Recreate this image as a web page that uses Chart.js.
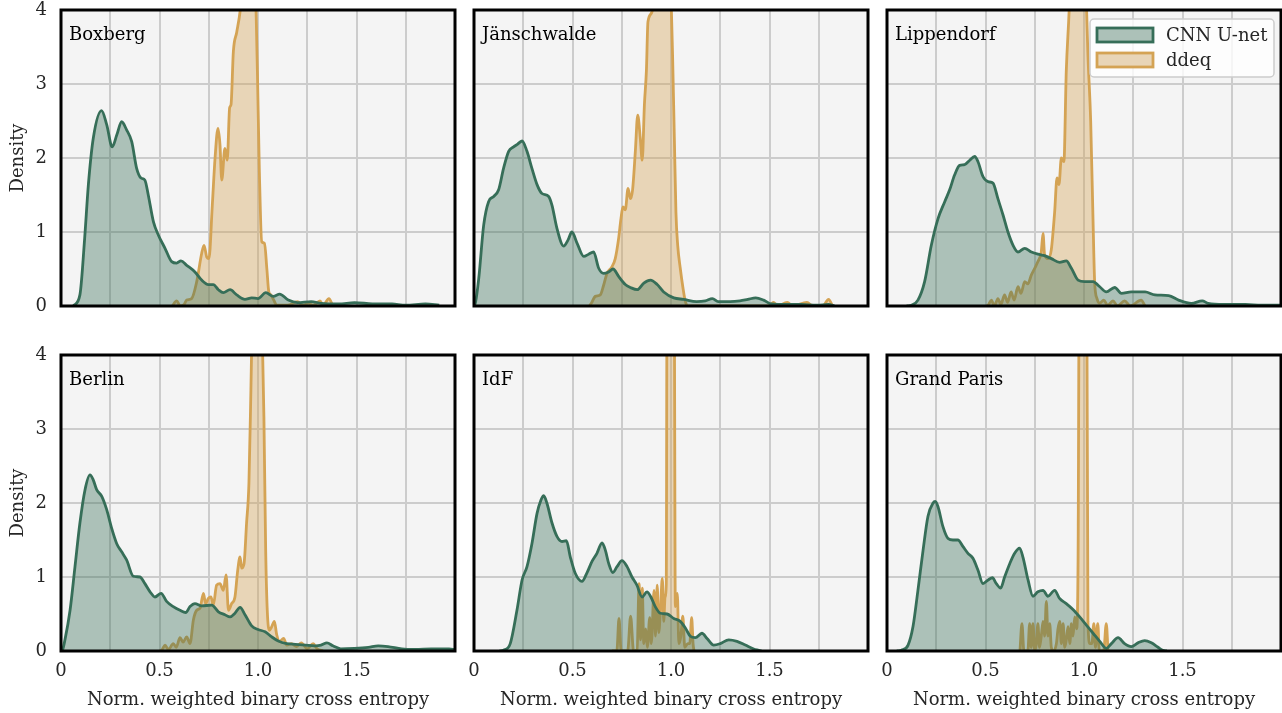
<!DOCTYPE html>
<html>
<head>
<meta charset="utf-8">
<script src="https://cdn.jsdelivr.net/npm/chart.js@4.4.1/dist/chart.umd.min.js"></script>
<style>
html, body { margin: 0; padding: 0; background: #fff; overflow: hidden; width: 1282px; height: 713px; }
canvas { position: absolute; }
</style>
</head>
<body>
<script>
// ---------------------------------------------------------------------------
// Data: KDE curves, as [x, density] pairs
// ---------------------------------------------------------------------------

const siteNames = ['Boxberg', 'Jänschwalde', 'Lippendorf', 'Berlin', 'IdF', 'Grand Paris'];
const seriesLabels = ['CNN U-net', 'ddeq'];
const xTicks = [0, 0.5, 1.0, 1.5];
const yTicks = [0, 1, 2, 3, 4];

const boxbergCnn = [[0.063,0],[0.096,0.15],[0.12,0.91],[0.139,1.64],[0.164,2.27],[0.206,2.64],[0.232,2.45],[0.26,2.15],[0.283,2.31],[0.308,2.49],[0.333,2.38],[0.359,2.22],[0.384,1.86],[0.406,1.73],[0.426,1.70],[0.443,1.5],[0.469,1.14],[0.494,0.96],[0.528,0.78],[0.562,0.6],[0.587,0.58],[0.609,0.61],[0.638,0.55],[0.68,0.46],[0.714,0.35],[0.748,0.29],[0.773,0.29],[0.799,0.22],[0.824,0.18],[0.858,0.22],[0.892,0.15],[0.934,0.09],[0.968,0.11],[1.0,0.10],[1.04,0.18],[1.078,0.13],[1.11,0.16],[1.154,0.08],[1.2,0.045],[1.27,0.06],[1.32,0.036],[1.41,0.027],[1.49,0.045],[1.58,0.03],[1.68,0.027],[1.75,0.01],[1.85,0.03],[1.92,0.01]];
const boxbergDdeq = [[0.565,0],[0.587,0.07],[0.605,0],[0.625,0.02],[0.638,0.08],[0.663,0.1],[0.689,0.33],[0.714,0.71],[0.726,0.82],[0.74,0.66],[0.751,0.64],[0.768,1.36],[0.782,2.0],[0.797,2.4],[0.807,2.18],[0.816,1.70],[0.832,2.13],[0.844,1.97],[0.856,2.68],[0.863,2.72],[0.875,3.44],[0.892,3.7],[0.909,3.98],[0.93,4.6],[0.96,5.0],[0.985,4.5],[0.991,3.9],[0.997,3.17],[1.007,1.81],[1.019,0.87],[1.033,0.85],[1.045,0.5],[1.055,0.19],[1.066,0.15],[1.08,0.08],[1.095,0.01],[1.15,0.01],[1.2,0.06],[1.23,0.01],[1.255,0.04],[1.28,0.01],[1.315,0.07],[1.33,0.01],[1.36,0.1],[1.38,0]];

const jaenschwaldeCnn = [[0.0,0],[0.007,0.04],[0.024,0.37],[0.049,1.09],[0.074,1.41],[0.1,1.48],[0.125,1.57],[0.15,1.86],[0.176,2.09],[0.201,2.15],[0.218,2.18],[0.244,2.23],[0.269,2.09],[0.294,1.86],[0.32,1.64],[0.345,1.52],[0.379,1.48],[0.396,1.36],[0.421,1.05],[0.455,0.81],[0.477,0.89],[0.497,1.0],[0.523,0.85],[0.557,0.67],[0.582,0.70],[0.607,0.73],[0.633,0.51],[0.658,0.44],[0.683,0.46],[0.706,0.5],[0.734,0.4],[0.768,0.29],[0.794,0.25],[0.829,0.22],[0.862,0.31],[0.896,0.35],[0.93,0.29],[0.963,0.19],[1.014,0.11],[1.064,0.09],[1.13,0.06],[1.174,0.07],[1.21,0.1],[1.24,0.06],[1.3,0.06],[1.35,0.07],[1.39,0.09],[1.43,0.11],[1.47,0.08],[1.51,0.027],[1.59,0.02],[1.66,0.02],[1.74,0.01],[1.8,0.02],[1.83,0]];
const jaenschwaldeDdeq = [[0.585,0],[0.594,0.03],[0.616,0.13],[0.641,0.15],[0.658,0.28],[0.675,0.44],[0.7,0.53],[0.717,0.64],[0.734,0.91],[0.746,1.18],[0.756,1.34],[0.768,1.3],[0.782,1.59],[0.794,1.45],[0.805,1.57],[0.819,2.09],[0.831,2.58],[0.844,2.27],[0.854,1.97],[0.865,2.72],[0.875,3.17],[0.883,3.84],[0.904,3.98],[0.92,4.6],[0.96,5.0],[0.995,4.6],[1.002,4.0],[1.008,3.39],[1.017,2.27],[1.025,1.27],[1.034,0.82],[1.047,0.51],[1.061,0.24],[1.073,0.06],[1.085,0],[1.5,0],[1.52,0.05],[1.54,0],[1.59,0.05],[1.62,0],[1.69,0.05],[1.72,0],[1.77,0],[1.8,0.09],[1.82,0]];

const lippendorfCnn = [[0.1,0],[0.124,0.01],[0.157,0.08],[0.191,0.33],[0.225,0.82],[0.259,1.18],[0.293,1.41],[0.318,1.57],[0.343,1.77],[0.369,1.9],[0.394,1.91],[0.42,1.97],[0.445,2.02],[0.462,1.95],[0.487,1.75],[0.513,1.68],[0.538,1.66],[0.563,1.45],[0.589,1.23],[0.614,1.0],[0.64,0.82],[0.665,0.73],[0.699,0.78],[0.733,0.73],[0.766,0.7],[0.8,0.68],[0.834,0.64],[0.876,0.59],[0.91,0.61],[0.936,0.51],[0.97,0.35],[1.003,0.33],[1.046,0.33],[1.08,0.26],[1.113,0.19],[1.156,0.25],[1.19,0.17],[1.24,0.19],[1.31,0.19],[1.36,0.15],[1.43,0.14],[1.48,0.08],[1.545,0.036],[1.6,0.07],[1.63,0.036],[1.71,0.02],[1.82,0.02],[1.9,0.01],[2.0,0.01]];
const lippendorfDdeq = [[0.505,0],[0.513,0.01],[0.53,0.08],[0.545,0.0],[0.563,0.1],[0.578,0.02],[0.597,0.15],[0.612,0.05],[0.63,0.19],[0.645,0.08],[0.665,0.26],[0.68,0.17],[0.699,0.33],[0.715,0.3],[0.733,0.42],[0.75,0.51],[0.766,0.6],[0.783,0.73],[0.792,0.98],[0.8,0.69],[0.817,0.64],[0.834,0.76],[0.851,1.27],[0.863,1.73],[0.873,1.64],[0.885,2.0],[0.898,1.95],[0.91,3.17],[0.922,3.84],[0.932,4.4],[0.97,5.0],[1.005,4.5],[1.012,4.1],[1.02,3.39],[1.034,2.49],[1.046,1.14],[1.054,0.33],[1.066,0.1],[1.08,0.04],[1.1,0.08],[1.12,0.01],[1.147,0.07],[1.17,0.0],[1.206,0.07],[1.235,0.0],[1.29,0.08],[1.31,0]];

const berlinCnn = [[0.0,0],[0.007,0.01],[0.02,0.15],[0.046,0.55],[0.071,1.14],[0.096,1.73],[0.122,2.18],[0.147,2.38],[0.164,2.31],[0.181,2.18],[0.207,2.09],[0.232,1.91],[0.257,1.66],[0.283,1.45],[0.308,1.34],[0.333,1.23],[0.367,1.01],[0.401,1.0],[0.426,0.91],[0.452,0.8],[0.477,0.73],[0.508,0.78],[0.536,0.67],[0.57,0.6],[0.604,0.55],[0.633,0.52],[0.655,0.6],[0.68,0.64],[0.714,0.61],[0.765,0.62],[0.799,0.53],[0.832,0.49],[0.858,0.46],[0.883,0.51],[0.909,0.59],[0.934,0.49],[0.968,0.34],[1.0,0.29],[1.036,0.26],[1.07,0.19],[1.1,0.14],[1.146,0.1],[1.19,0.09],[1.24,0.08],[1.29,0.07],[1.32,0.08],[1.35,0.11],[1.38,0.07],[1.42,0.03],[1.49,0.036],[1.56,0.05],[1.61,0.07],[1.66,0.06],[1.73,0.027],[1.8,0.02],[1.88,0.027],[1.97,0.027],[2.0,0.02]];
const berlinDdeq = [[0.5,0],[0.511,0.01],[0.528,0.08],[0.545,0.02],[0.57,0.1],[0.585,0.05],[0.604,0.18],[0.62,0.12],[0.638,0.19],[0.655,0.1],[0.672,0.42],[0.689,0.55],[0.706,0.58],[0.723,0.78],[0.734,0.64],[0.748,0.71],[0.761,0.73],[0.773,0.62],[0.79,0.89],[0.807,0.91],[0.824,0.82],[0.838,1.03],[0.85,0.55],[0.866,0.64],[0.883,0.73],[0.897,1.09],[0.909,1.27],[0.917,1.12],[0.929,1.18],[0.942,1.73],[0.954,2.27],[0.964,3.53],[0.971,4.5],[0.995,5.2],[1.02,4.5],[1.03,3.17],[1.039,1.36],[1.047,0.55],[1.058,0.28],[1.07,0.33],[1.083,0.4],[1.095,0.22],[1.11,0.13],[1.13,0.17],[1.146,0.08],[1.17,0.1],[1.196,0.06],[1.22,0.11],[1.25,0.03],[1.28,0.1],[1.3,0.03],[1.33,0]];

const idfCnn = [[0.13,0],[0.15,0.01],[0.184,0.1],[0.218,0.55],[0.244,0.96],[0.269,1.14],[0.294,1.45],[0.32,1.86],[0.34,2.04],[0.354,2.1],[0.37,2.0],[0.396,1.73],[0.421,1.55],[0.447,1.48],[0.469,1.49],[0.489,1.27],[0.514,1.05],[0.548,0.94],[0.574,1.06],[0.599,1.21],[0.624,1.32],[0.65,1.46],[0.667,1.36],[0.684,1.18],[0.705,1.06],[0.726,1.14],[0.751,1.22],[0.777,1.14],[0.802,1.0],[0.827,0.89],[0.853,0.73],[0.878,0.8],[0.898,0.73],[0.92,0.6],[0.946,0.51],[0.98,0.5],[1.014,0.44],[1.047,0.4],[1.073,0.31],[1.098,0.2],[1.124,0.18],[1.157,0.24],[1.183,0.17],[1.217,0.08],[1.25,0.1],[1.293,0.15],[1.335,0.13],[1.377,0.08],[1.42,0.027],[1.445,0.01],[1.46,0]];
const idfDdeq = [[0.70,0],[0.725,0],[0.736,0.44],[0.747,0],[0.78,0],[0.795,0.47],[0.81,0],[0.828,0.02],[0.838,0.91],[0.846,0.15],[0.854,0.85],[0.862,0.1],[0.872,0.3],[0.88,0.05],[0.892,0.45],[0.9,0.1],[0.914,0.82],[0.921,0.2],[0.93,0.89],[0.938,0.25],[0.947,0.6],[0.956,0.98],[0.963,0.4],[0.97,0.73],[0.976,0.9],[0.98,5],[1.016,5],[1.022,0.6],[1.032,0.78],[1.04,0.1],[1.05,0.2],[1.06,0.47],[1.07,0.05],[1.085,0.1],[1.095,0.1],[1.105,0.45],[1.112,0.1],[1.117,0]];

const grandParisCnn = [[0.05,0],[0.073,0.01],[0.107,0.08],[0.132,0.33],[0.157,0.82],[0.183,1.36],[0.208,1.82],[0.234,2.0],[0.245,2.02],[0.259,1.95],[0.284,1.68],[0.31,1.52],[0.335,1.5],[0.36,1.5],[0.386,1.41],[0.411,1.32],[0.437,1.25],[0.462,1.09],[0.487,0.91],[0.513,0.96],[0.535,0.99],[0.555,0.91],[0.577,0.85],[0.597,1.0],[0.623,1.18],[0.648,1.32],[0.673,1.39],[0.69,1.27],[0.716,0.96],[0.741,0.74],[0.766,0.8],[0.792,0.82],[0.817,0.74],[0.851,0.82],[0.876,0.71],[0.91,0.64],[0.944,0.56],[0.978,0.46],[1.012,0.35],[1.046,0.24],[1.08,0.13],[1.113,0.036],[1.139,0.1],[1.173,0.18],[1.206,0.1],[1.24,0.06],[1.274,0.11],[1.308,0.14],[1.342,0.11],[1.376,0.05],[1.4,0.01],[1.42,0]];
const grandParisDdeq = [[0.675,0],[0.685,0.37],[0.695,0],[0.715,0],[0.724,0.37],[0.732,0.05],[0.741,0.37],[0.75,0],[0.758,0.1],[0.766,0.37],[0.774,0.05],[0.783,0.2],[0.792,0.4],[0.8,0.2],[0.809,0.67],[0.817,0.2],[0.826,0.37],[0.834,0.05],[0.845,0],[0.86,0.1],[0.868,0.3],[0.877,0.4],[0.885,0.1],[0.894,0.37],[0.902,0.05],[0.91,0.15],[0.919,0.33],[0.928,0.1],[0.936,0.37],[0.944,0.2],[0.953,0.46],[0.962,0.3],[0.97,1.27],[0.976,5],[1.014,5],[1.02,0.4],[1.03,0.1],[1.04,0.1],[1.05,0.37],[1.058,0.05],[1.07,0.37],[1.078,0],[1.1,0],[1.113,0.37],[1.122,0]];

const cnnSeries = [boxbergCnn, jaenschwaldeCnn, lippendorfCnn, berlinCnn, idfCnn, grandParisCnn];
const ddeqSeries = [boxbergDdeq, jaenschwaldeDdeq, lippendorfDdeq, berlinDdeq, idfDdeq, grandParisDdeq];

// ---------------------------------------------------------------------------
// Style
// ---------------------------------------------------------------------------

const GREEN = 'rgb(54,110,88)';
const GREEN_FILL = 'rgba(54,110,88,0.38)';
const ORANGE = 'rgb(212,163,84)';
const ORANGE_FILL = 'rgba(212,163,84,0.38)';
const TEXT = '#262626';
const GRID = '#cccccc';
const FONT = "'DejaVu Serif', serif";

Chart.defaults.font.family = FONT;
Chart.defaults.font.size = 18;
Chart.defaults.color = TEXT;

// plot background, black frame, site label and (one panel) legend
const panelDecor = {
    id: 'panelDecor',
    beforeDraw(chart) {
        const a = chart.chartArea;
        const ctx = chart.ctx;
        ctx.save();
        ctx.fillStyle = '#f4f4f4';
        ctx.fillRect(a.left, a.top, a.right - a.left, a.bottom - a.top);
        ctx.restore();
    },
    afterDraw(chart, args, opts) {
        const a = chart.chartArea;
        const ctx = chart.ctx;
        ctx.save();
        ctx.strokeStyle = '#000';
        ctx.lineWidth = 3;
        ctx.strokeRect(a.left, a.top, a.right - a.left, a.bottom - a.top);

        ctx.fillStyle = '#000';
        ctx.font = '18px ' + FONT;
        ctx.textBaseline = 'alphabetic';
        ctx.textAlign = 'left';
        ctx.fillText(opts.label, a.left + 8, a.top + 30);

        if (opts.legend) {
            const bx = a.right - 191, by = a.top + 9, bw = 184, bh = 58;
            ctx.beginPath();
            ctx.roundRect(bx, by, bw, bh, 4);
            ctx.fillStyle = 'rgba(255,255,255,0.8)';
            ctx.fill();
            ctx.strokeStyle = '#cccccc';
            ctx.lineWidth = 1.5;
            ctx.stroke();
            chart.data.datasets.forEach((ds, i) => {
                const sy = by + 9 + i * 25;
                ctx.fillStyle = '#f4f4f4';
                ctx.fillRect(bx + 7, sy, 56, 14);
                ctx.fillStyle = ds.backgroundColor;
                ctx.fillRect(bx + 7, sy, 56, 14);
                ctx.strokeStyle = ds.borderColor;
                ctx.lineWidth = 2.8;
                ctx.strokeRect(bx + 7, sy, 56, 14);
                ctx.fillStyle = TEXT;
                ctx.font = '18px ' + FONT;
                ctx.textBaseline = 'middle';
                ctx.fillText(ds.label, bx + 76, sy + 8);
            });
        }
        ctx.restore();
    }
};

function toPoints(pairs) {
    return pairs.map(([x, y]) => ({ x, y }));
}

function fmtX(v) {
    if (!xTicks.includes(v)) return '';
    return v === 0 ? '0' : v.toFixed(1);
}

// fixed axis box sizes so every plot area lands where the figure has it
function fixBox(size, horizontal) {
    return s => {
        if (horizontal) s.height = size; else s.width = size;
        s.paddingTop = 0; s.paddingBottom = 0; s.paddingLeft = 0; s.paddingRight = 0;
    };
}

// ---------------------------------------------------------------------------
// Build the 2 x 3 grid of panels
// ---------------------------------------------------------------------------

siteNames.forEach((name, idx) => {
    const col = idx % 3;
    const row = Math.floor(idx / 3);
    const canvas = document.createElement('canvas');
    canvas.width = 459;
    canvas.height = 368;
    canvas.style.left = (col * 413) + 'px';
    canvas.style.top = (row * 345) + 'px';
    document.body.appendChild(canvas);

    new Chart(canvas, {
        type: 'line',
        data: {
            datasets: [{
                label: seriesLabels[0], data: toPoints(cnnSeries[idx]),
                borderColor: GREEN, backgroundColor: GREEN_FILL, fill: 'origin',
                borderWidth: 2.8, pointRadius: 0, cubicInterpolationMode: 'monotone',
            }, {
                label: seriesLabels[1], data: toPoints(ddeqSeries[idx]),
                borderColor: ORANGE, backgroundColor: ORANGE_FILL, fill: 'origin',
                borderWidth: 2.8, pointRadius: 0, cubicInterpolationMode: 'monotone',
            }]
        },
        options: {
            responsive: false,
            animation: false,
            events: [],
            layout: { padding: { top: 10, right: 4, left: 0, bottom: 0 } },
            plugins: {
                legend: { display: false },
                tooltip: { enabled: false },
                panelDecor: { label: name, legend: idx === 2 },
            },
            scales: {
                x: {
                    type: 'linear', min: 0, max: 2,
                    ticks: {
                        stepSize: 0.25, autoSkip: false, maxRotation: 0, padding: 10,
                        callback: v => row === 1 ? fmtX(v) : '',
                    },
                    grid: { color: GRID, lineWidth: 2, drawTicks: false },
                    border: { display: false },
                    title: {
                        display: row === 1, text: 'Norm. weighted binary cross entropy',
                        padding: { top: 0, bottom: 2 },
                    },
                    afterFit: fixBox(62, true),
                },
                y: {
                    min: 0, max: 4,
                    ticks: {
                        stepSize: 1, padding: 14,
                        callback: v => col === 0 && yTicks.includes(v) ? String(v) : '',
                    },
                    grid: { color: GRID, lineWidth: 2, drawTicks: false },
                    border: { display: false },
                    title: { display: col === 0, text: 'Density', padding: { top: 8, bottom: 0 } },
                    afterFit: fixBox(61, false),
                }
            }
        },
        plugins: [panelDecor],
    });
});
</script>
</body>
</html>
